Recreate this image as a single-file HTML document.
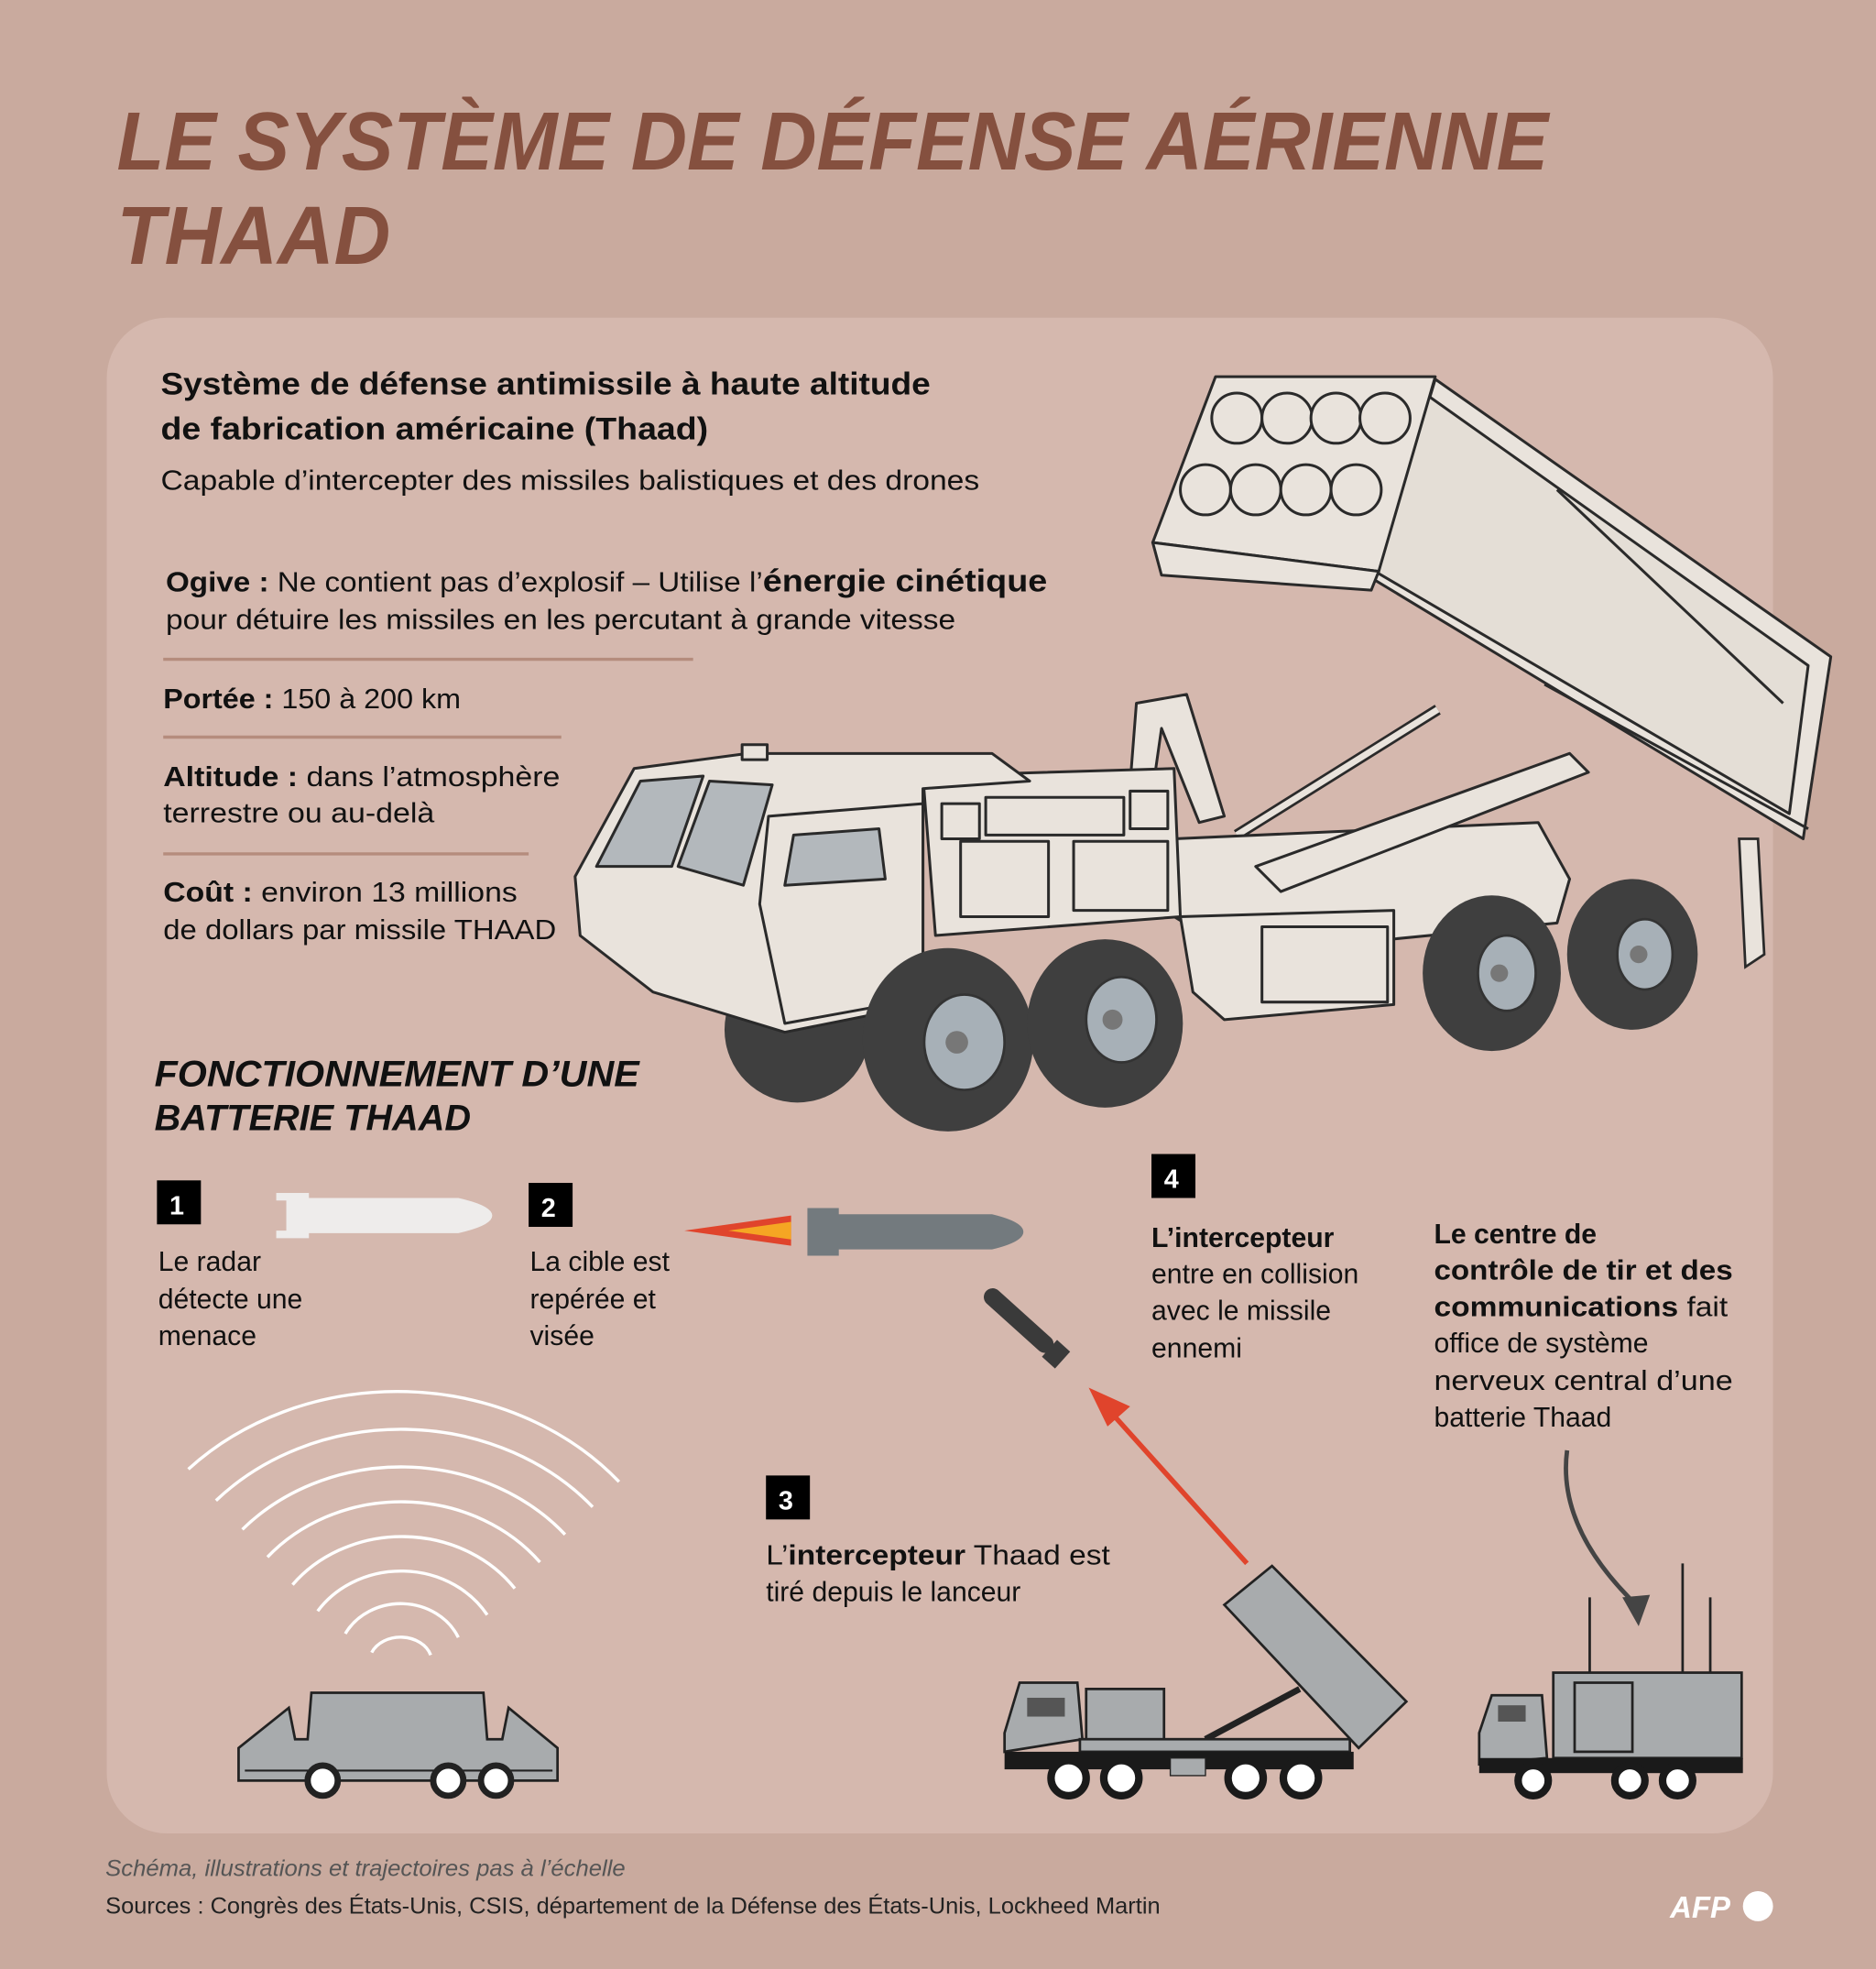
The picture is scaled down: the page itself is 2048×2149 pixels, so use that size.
<!DOCTYPE html>
<html><head><meta charset="utf-8"><style>
html,body{margin:0;padding:0;background:#c9aa9e;}
svg{display:block}
text{font-family:"Liberation Sans",sans-serif;fill:#111;}
.b{font-weight:bold}
</style></head><body>
<svg width="2048" height="2149" viewBox="0 0 1494 1568" preserveAspectRatio="none" xmlns="http://www.w3.org/2000/svg">
<rect width="1494" height="1568" fill="#c9aa9e"/>
<text x="93" y="135" font-size="66" font-weight="bold" font-style="italic" style="fill:#85503f" textLength="1140" lengthAdjust="spacingAndGlyphs">LE SYSTÈME DE DÉFENSE AÉRIENNE</text>
<text x="93" y="210" font-size="66" font-weight="bold" font-style="italic" style="fill:#85503f" textLength="218" lengthAdjust="spacingAndGlyphs">THAAD</text>
<rect x="85" y="253" width="1327" height="1207" rx="48" fill="#d5b8ae"/>

<text x="128" y="314" font-size="25" class="b" textLength="613" lengthAdjust="spacingAndGlyphs">Système de défense antimissile à haute altitude</text>
<text x="128" y="350" font-size="25" class="b" textLength="436" lengthAdjust="spacingAndGlyphs">de fabrication américaine (Thaad)</text>
<text x="128" y="390" font-size="22" textLength="652" lengthAdjust="spacingAndGlyphs">Capable d’intercepter des missiles balistiques et des drones</text>
<text x="132" y="471" font-size="22" textLength="702" lengthAdjust="spacingAndGlyphs"><tspan class="b">Ogive :</tspan> Ne contient pas d’explosif – Utilise l’<tspan class="b" font-size="25">énergie cinétique</tspan></text>
<text x="132" y="501" font-size="22" textLength="629" lengthAdjust="spacingAndGlyphs">pour détuire les missiles en les percutant à grande vitesse</text>
<line x1="130" y1="525" x2="552" y2="525" stroke="#b58c7d" stroke-width="2.5"/>
<text x="130" y="564" font-size="22" textLength="237" lengthAdjust="spacingAndGlyphs"><tspan class="b">Portée :</tspan> 150 à 200 km</text>
<line x1="130" y1="587" x2="447" y2="587" stroke="#b58c7d" stroke-width="2.5"/>
<text x="130" y="626" font-size="22" textLength="316" lengthAdjust="spacingAndGlyphs"><tspan class="b">Altitude :</tspan> dans l’atmosphère</text>
<text x="130" y="655" font-size="22" textLength="216" lengthAdjust="spacingAndGlyphs">terrestre ou au-delà</text>
<line x1="130" y1="680" x2="421" y2="680" stroke="#b58c7d" stroke-width="2.5"/>
<text x="130" y="718" font-size="22" textLength="282" lengthAdjust="spacingAndGlyphs"><tspan class="b">Coût :</tspan> environ 13 millions</text>
<text x="130" y="748" font-size="22" textLength="313" lengthAdjust="spacingAndGlyphs">de dollars par missile THAAD</text>

<!-- front wheel behind cab -->
<circle cx="635" cy="820" r="58" fill="#3f3f3f"/>
<g stroke="#2a2a2a" stroke-width="2.2" stroke-linejoin="round" fill="#e9e3dc">
  <polygon points="905,560 945,553 975,650 955,655 925,580 915,650 898,650"/>
  <line x1="985" y1="665" x2="1145" y2="565" stroke-width="9" stroke="#2a2a2a"/>
  <line x1="985" y1="665" x2="1145" y2="565" stroke-width="5" stroke="#e9e3dc"/>
  <polygon points="935,668 1225,655 1250,700 1240,735 985,760 935,730"/>
  <polygon points="1000,690 1250,600 1265,615 1020,710"/>
  <polygon points="1143,302 1458,523 1436,668 1095,462"/>
  <polygon points="1130,310 1440,530 1425,648 1095,455" fill="#e4ded6"/>
  <line x1="1240" y1="390" x2="1420" y2="560"/>
  <line x1="1230" y1="545" x2="1440" y2="660"/>
  <polygon points="968,300 1143,300 1098,455 918,432"/>
  <polygon points="918,432 1098,455 1092,470 925,458"/>
  <circle cx="985" cy="333" r="20"/><circle cx="1025" cy="333" r="20"/><circle cx="1064" cy="333" r="20"/><circle cx="1103" cy="333" r="20"/>
  <circle cx="960" cy="390" r="20"/><circle cx="1000" cy="390" r="20"/><circle cx="1040" cy="390" r="20"/><circle cx="1080" cy="390" r="20"/>
  <polygon points="735,618 935,612 940,730 745,745"/>
  <rect x="750" y="640" width="30" height="28"/><rect x="785" y="635" width="110" height="30"/><rect x="900" y="630" width="30" height="30"/>
  <rect x="765" y="670" width="70" height="60"/><rect x="855" y="670" width="75" height="55"/>
  <polygon points="940,730 1110,725 1110,800 975,812 950,790"/>
  <rect x="1005" y="738" width="100" height="60"/>
  <polygon points="458,698 505,612 595,600 790,600 820,622 735,628 735,800 625,822 520,790 462,745"/>
  <polygon points="475,690 510,622 560,618 535,690" fill="#b3b8bc"/>
  <polygon points="540,690 565,622 615,625 592,705" fill="#b3b8bc"/>
  <polygon points="612,650 735,640 735,795 625,815 605,720"/>
  <polygon points="625,705 632,665 700,660 705,700" fill="#b3b8bc"/>
  <rect x="591" y="593" width="20" height="12"/>
</g>
<g>
  <ellipse cx="755" cy="828" rx="68" ry="73" fill="#3f3f3f"/><ellipse cx="768" cy="830" rx="32" ry="38" fill="#a7b0b7" stroke="#333" stroke-width="2"/><circle cx="762" cy="830" r="9" fill="#777"/>
  <ellipse cx="880" cy="815" rx="62" ry="67" fill="#3f3f3f"/><ellipse cx="893" cy="812" rx="28" ry="34" fill="#a7b0b7" stroke="#333" stroke-width="2"/><circle cx="886" cy="812" r="8" fill="#777"/>
  <ellipse cx="1188" cy="775" rx="55" ry="62" fill="#3f3f3f"/><ellipse cx="1200" cy="775" rx="23" ry="30" fill="#a7b0b7" stroke="#333" stroke-width="2"/><circle cx="1194" cy="775" r="7" fill="#777"/>
  <ellipse cx="1300" cy="760" rx="52" ry="60" fill="#3f3f3f"/><ellipse cx="1310" cy="760" rx="22" ry="28" fill="#a7b0b7" stroke="#333" stroke-width="2"/><circle cx="1305" cy="760" r="7" fill="#777"/>
  <polygon points="1385,668 1400,668 1405,760 1390,770" fill="#e9e3dc" stroke="#2a2a2a" stroke-width="2"/>
</g>

<text x="123" y="865" font-size="29" font-weight="bold" font-style="italic" textLength="386" lengthAdjust="spacingAndGlyphs">FONCTIONNEMENT D’UNE</text>
<text x="123" y="900" font-size="29" font-weight="bold" font-style="italic" textLength="252" lengthAdjust="spacingAndGlyphs">BATTERIE THAAD</text>

<g font-size="22">
<rect x="125" y="940" width="35" height="35" fill="#000"/><text x="135" y="967" style="fill:#fff" class="b" font-size="21">1</text>
<text x="126" y="1012">Le radar</text><text x="126" y="1042">détecte une</text><text x="126" y="1071">menace</text>
<rect x="421" y="942" width="35" height="35" fill="#000"/><text x="431" y="969" style="fill:#fff" class="b" font-size="21">2</text>
<text x="422" y="1012">La cible est</text><text x="422" y="1042">repérée et</text><text x="422" y="1071">visée</text>
<rect x="917" y="919" width="35" height="35" fill="#000"/><text x="927" y="946" style="fill:#fff" class="b" font-size="21">4</text>
<text x="917" y="993" class="b">L’intercepteur</text><text x="917" y="1022">entre en collision</text><text x="917" y="1051">avec le missile</text><text x="917" y="1081">ennemi</text>
<text x="1142" y="990" class="b">Le centre de</text>
<text x="1142" y="1019" class="b" textLength="238" lengthAdjust="spacingAndGlyphs">contrôle de tir et des</text>
<text x="1142" y="1048" textLength="234" lengthAdjust="spacingAndGlyphs"><tspan class="b">communications</tspan> fait</text>
<text x="1142" y="1077">office de système</text>
<text x="1142" y="1107" textLength="238" lengthAdjust="spacingAndGlyphs">nerveux central d’une</text>
<text x="1142" y="1136">batterie Thaad</text>
<rect x="610" y="1175" width="35" height="35" fill="#000"/><text x="620" y="1202" style="fill:#fff" class="b" font-size="21">3</text>
<text x="610" y="1246" textLength="274" lengthAdjust="spacingAndGlyphs">L’<tspan class="b">intercepteur</tspan> Thaad est</text>
<text x="610" y="1275">tiré depuis le lanceur</text>
</g>

<path d="M220,950 L246,950 L246,954 L365,954 Q392,960 392,968 Q392,976 365,982 L246,982 L246,986 L220,986 L220,980 L228,980 L228,956 L220,956 Z" fill="#eeeceb"/>
<polygon points="545,980 630,968 630,992" fill="#e0442c"/>
<polygon points="580,980 630,973 630,987" fill="#f5a623"/>
<path d="M643,962 L668,962 L668,967 L790,967 Q815,973 815,981 Q815,989 790,995 L668,995 L668,1000 L643,1000 Z" fill="#737a7e"/>
<g transform="translate(815,1055) rotate(42)"><rect x="-40" y="-7" width="70" height="14" rx="7" fill="#3a3a3a"/><rect x="28" y="-9" width="14" height="18" fill="#3a3a3a"/></g>
<line x1="993" y1="1245" x2="885" y2="1125" stroke="#e0442c" stroke-width="4"/>
<polygon points="867,1105 900,1120 882,1136" fill="#e0442c"/>
<path d="M1248,1155 Q1240,1215 1300,1275" fill="none" stroke="#444" stroke-width="3.5"/>
<polygon points="1305,1295 1292,1272 1314,1270" fill="#444"/>

<g fill="none" stroke="#fff" stroke-width="2.5">
<path d="M150,1170 A230,200 0 0 1 493,1180"/>
<path d="M172,1195 A200,175 0 0 1 472,1200"/>
<path d="M193,1218 A170,150 0 0 1 450,1222"/>
<path d="M213,1240 A140,125 0 0 1 430,1244"/>
<path d="M233,1262 A110,98 0 0 1 410,1265"/>
<path d="M253,1283 A80,72 0 0 1 388,1286"/>
<path d="M275,1301 A50,45 0 0 1 365,1304"/>
<path d="M296,1316 A25,20 0 0 1 343,1318"/>
</g>
<g fill="#a8abad" stroke="#222" stroke-width="2">
<path d="M190,1392 L230,1360 L235,1385 L245,1385 L248,1348 L385,1348 L388,1385 L400,1385 L405,1360 L444,1392 L444,1418 L190,1418 Z"/>
</g>
<line x1="195" y1="1410" x2="440" y2="1410" stroke="#222" stroke-width="1.5"/>
<g fill="#fff" stroke="#222" stroke-width="5"><circle cx="257" cy="1418" r="12"/><circle cx="357" cy="1418" r="12"/><circle cx="395" cy="1418" r="12"/></g>

<g stroke="#222" stroke-width="2" fill="#a8abad">
<polygon points="975,1278 1013,1247 1120,1355 1082,1392"/>
<line x1="960" y1="1385" x2="1035" y2="1345" stroke-width="5"/>
<path d="M800,1380 L812,1340 L858,1340 L862,1385 L800,1395 Z"/>
<rect x="865" y="1345" width="62" height="45"/>
<rect x="860" y="1385" width="215" height="10"/>
</g>
<rect x="818" y="1352" width="30" height="15" fill="#555"/>
<rect x="800" y="1395" width="278" height="14" fill="#1a1a1a"/>
<rect x="932" y="1400" width="28" height="14" fill="#a8abad" stroke="#222"/>
<g fill="#fff" stroke="#1a1a1a" stroke-width="6"><circle cx="851" cy="1416" r="14"/><circle cx="893" cy="1416" r="14"/><circle cx="992" cy="1416" r="14"/><circle cx="1036" cy="1416" r="14"/></g>

<g stroke="#222" stroke-width="2" fill="#a8abad">
<line x1="1266" y1="1272" x2="1266" y2="1332" />
<line x1="1340" y1="1245" x2="1340" y2="1332" />
<line x1="1362" y1="1272" x2="1362" y2="1332" />
<rect x="1237" y="1332" width="150" height="68"/>
<path d="M1178,1380 L1188,1350 L1228,1350 L1232,1400 L1178,1405 Z"/>
<rect x="1254" y="1340" width="46" height="55" fill="none"/>
</g>
<rect x="1193" y="1358" width="22" height="13" fill="#555"/>
<rect x="1178" y="1400" width="210" height="12" fill="#1a1a1a"/>
<g fill="#fff" stroke="#1a1a1a" stroke-width="6"><circle cx="1221" cy="1418" r="12"/><circle cx="1298" cy="1418" r="12"/><circle cx="1336" cy="1418" r="12"/></g>

<text x="84" y="1494" font-size="18" font-style="italic" style="fill:#555" textLength="414" lengthAdjust="spacingAndGlyphs">Schéma, illustrations et trajectoires pas à l’échelle</text>
<text x="84" y="1524" font-size="18" style="fill:#222" textLength="840" lengthAdjust="spacingAndGlyphs">Sources : Congrès des États-Unis, CSIS, département de la Défense des États-Unis, Lockheed Martin</text>
<text x="1330" y="1527" font-size="24" font-weight="bold" font-style="italic" style="fill:#fff">AFP</text>
<circle cx="1400" cy="1518" r="12" fill="#fff"/>
</svg>
</body></html>
